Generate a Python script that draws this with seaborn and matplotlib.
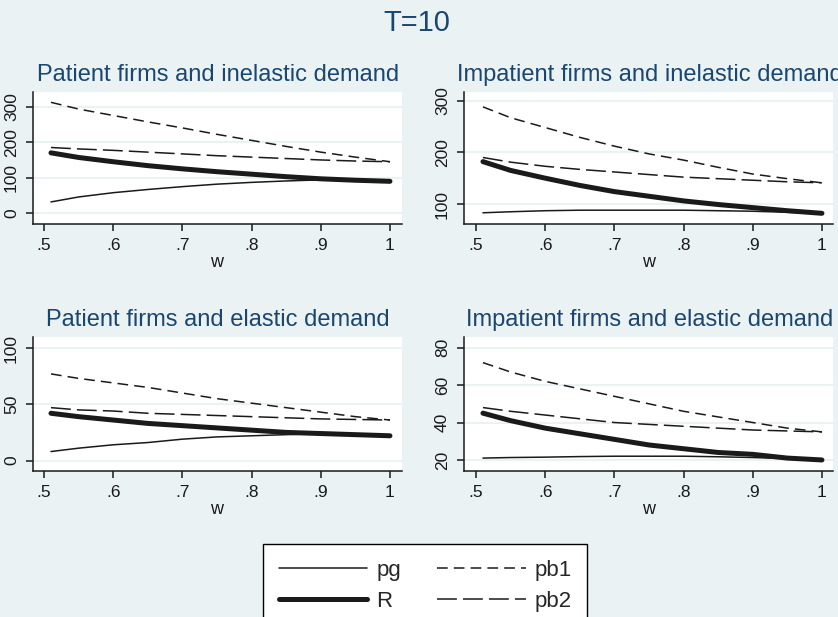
"""
Recreates the Stata-style 2x2 panel "T=10" with seaborn line plots.
"""

import matplotlib.pyplot as plt
from matplotlib.lines import Line2D
import pandas as pd
import seaborn as sns

# ---- data ----
w = [0.51, 0.55, 0.60, 0.65, 0.70, 0.75, 0.80, 0.85, 0.90, 0.95, 1.00]

# Patient firms and inelastic demand
pat_inel_pg = [32, 46, 58, 67, 75, 82, 87, 91, 94, 93, 90]
pat_inel_R = [170, 157, 145, 134, 125, 117, 110, 103, 97, 93, 90]
pat_inel_pb1 = [312, 293, 275, 257, 240, 222, 205, 188, 172, 158, 145]
pat_inel_pb2 = [185, 181, 177, 172, 167, 162, 158, 154, 150, 147, 145]

# Impatient firms and inelastic demand
imp_inel_pg = [83, 85, 87, 88, 88, 88, 88, 87, 86, 84, 82]
imp_inel_R = [182, 165, 150, 136, 124, 115, 106, 99, 93, 87, 82]
imp_inel_pb1 = [288, 267, 248, 229, 212, 197, 185, 171, 158, 149, 141]
imp_inel_pb2 = [190, 181, 173, 167, 162, 157, 152, 149, 146, 143, 141]

# Patient firms and elastic demand
pat_el_pg = [8, 11, 14, 16, 19, 21, 22, 23, 24, 23, 22]
pat_el_R = [42, 39, 36, 33, 31, 29, 27, 25, 24, 23, 22]
pat_el_pb1 = [77, 73, 69, 65, 60, 55, 51, 47, 43, 39, 36]
pat_el_pb2 = [47, 45, 44, 42, 41, 40, 39, 38, 37, 36.5, 36]

# Impatient firms and elastic demand
imp_el_pg = [21, 21.3, 21.5, 21.8, 22, 22, 22, 21.7, 21.3, 20.7, 20]
imp_el_R = [45, 41, 37, 34, 31, 28, 26, 24, 23, 21, 20]
imp_el_pb1 = [72, 67, 62, 58, 54, 50, 46, 43, 40, 37, 35]
imp_el_pb2 = [48, 46, 44, 42, 40, 39, 38, 37, 36, 35.5, 35]

series_names = ["pg", "R", "pb1", "pb2"]
x_ticks = [0.5, 0.6, 0.7, 0.8, 0.9, 1.0]
x_tick_labels = [".5", ".6", ".7", ".8", ".9", "1"]

# ---- styling ----
sns.set_theme(style="white")
plt.rcParams["font.family"] = ["Liberation Sans", "DejaVu Sans"]

BG = "#EAF2F3"
NAVY = "#1A476F"
INK = "#1a1a1a"
W, H = 838, 617

styles = {
    "pg": dict(lw=1.1, ls="-"),
    "R": dict(lw=3.6, ls="-"),
    "pb1": dict(lw=1.1, ls=(0, (7, 4))),
    "pb2": dict(lw=1.1, ls=(0, (13, 4))),
}

panels = [
    # title, data, pixel box (left, right, top, bottom), xlim, ylim, yticks, title centre, w-label pos
    ("Patient firms and inelastic demand",
     [pat_inel_pg, pat_inel_R, pat_inel_pb1, pat_inel_pb2],
     (33, 402, 92, 224), (0.484, 1.0174), (-30, 341), [0, 100, 200, 300], (218, 75), (217, 263)),
    ("Impatient firms and inelastic demand",
     [imp_inel_pg, imp_inel_R, imp_inel_pb1, imp_inel_pb2],
     (464, 833, 92, 224), (0.4826, 1.016), (61.3, 316.8), [100, 200, 300], (650, 75), (649, 263)),
    ("Patient firms and elastic demand",
     [pat_el_pg, pat_el_R, pat_el_pb1, pat_el_pb2],
     (33, 402, 337, 471), (0.484, 1.0174), (-9.3, 109.8), [0, 50, 100], (218, 320), (217, 509)),
    ("Impatient firms and elastic demand",
     [imp_el_pg, imp_el_R, imp_el_pb1, imp_el_pb2],
     (464, 833, 337, 471), (0.4826, 1.016), (14.1, 85.7), [20, 40, 60, 80], (650, 320), (649, 509)),
]

fig = plt.figure(figsize=(W / 100, H / 100), dpi=100)
fig.patch.set_facecolor(BG)

fig.text(417 / W, 1 - 23 / H, "T=10", ha="center", va="center", fontsize=21, color=NAVY)

for title, data, box, xlim, ylim, yticks, tpos, wpos in panels:
    left, right, top, bottom = box
    ax = fig.add_axes([left / W, 1 - bottom / H, (right - left) / W, (bottom - top) / H])
    ax.set_facecolor("white")

    for name, vals in zip(series_names, data):
        df = pd.DataFrame({"w": w, "value": vals})
        st = styles[name]
        sns.lineplot(data=df, x="w", y="value", ax=ax, color=INK,
                     linewidth=st["lw"], linestyle=st["ls"], legend=False)

    ax.set_xlim(*xlim)
    ax.set_ylim(*ylim)
    ax.set_xticks(x_ticks, x_tick_labels)
    ax.set_yticks(yticks, [str(v) for v in yticks])
    ax.set_xlabel("")
    ax.set_ylabel("")
    ax.tick_params(axis="both", direction="out", length=5, width=1.1, color=INK,
                   labelsize=12.5, labelcolor=INK, bottom=True, left=True)
    ax.tick_params(axis="x", pad=5)
    ax.tick_params(axis="y", pad=5)
    for lab in ax.get_yticklabels():
        lab.set_rotation(90)
        lab.set_va("center")

    ax.grid(axis="y", color=BG, linewidth=1.5)
    ax.grid(axis="x", visible=False)
    ax.set_axisbelow(True)
    for side in ["top", "right"]:
        ax.spines[side].set_visible(False)
    for side in ["left", "bottom"]:
        ax.spines[side].set_color(INK)
        ax.spines[side].set_linewidth(1.1)

    fig.text(tpos[0] / W, 1 - tpos[1] / H, title, ha="center", va="center",
             fontsize=17, color=NAVY)
    fig.text(wpos[0] / W, 1 - wpos[1] / H, "w", ha="center", va="center",
             fontsize=13, color=INK)

handles = [Line2D([], [], color=INK, linewidth=styles[n]["lw"], linestyle=styles[n]["ls"])
           for n in series_names]
leg = fig.legend(handles, series_names, loc="upper left",
                 bbox_to_anchor=(263 / W, 1 - 544 / H), borderaxespad=0, ncol=2,
                 frameon=True, fancybox=False, edgecolor="black", facecolor="white",
                 fontsize=16, handlelength=4, handletextpad=0.4, columnspacing=1.6,
                 labelspacing=0.45, borderpad=0.7, framealpha=1)
leg.get_frame().set_linewidth(1.0)

fig.savefig("out.png", dpi=100, facecolor=BG)
plt.close(fig)
